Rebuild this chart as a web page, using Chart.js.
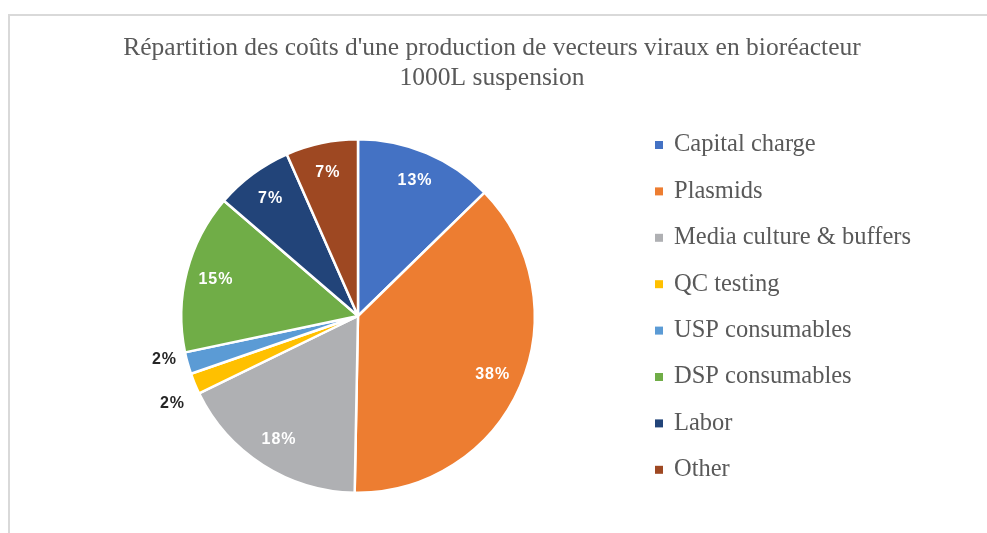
<!DOCTYPE html>
<html>
<head>
<meta charset="utf-8">
<title>Répartition des coûts</title>
<script src="https://cdn.jsdelivr.net/npm/chart.js@4.4.1/dist/chart.umd.min.js"></script>
<style>
  html, body { margin: 0; padding: 0; background: #fff; }
  #wrap { position: relative; width: 987px; height: 533px; }
</style>
</head>
<body>
<div id="wrap"><canvas id="costChart" width="987" height="533"></canvas></div>
<script>
const titleLines = [
  "Répartition des coûts d'une production de vecteurs viraux en bioréacteur",
  "1000L suspension",
];
const categories = [
  "Capital charge",
  "Plasmids",
  "Media culture & buffers",
  "QC testing",
  "USP consumables",
  "DSP consumables",
  "Labor",
  "Other",
];
// share of total cost, in percent
const costShares = [12.7, 37.6, 17.5, 1.9, 2.0, 14.6, 7.1, 6.6];
const sliceColors = [
  "#4472C4",
  "#ED7D31",
  "#AFB0B3",
  "#FFC000",
  "#5B9BD5",
  "#70AD47",
  "#224479",
  "#9E4822",
];

const textGrey = "#595959";
const serif = "'Liberation Serif', 'DejaVu Serif', serif";

// frame, title and legend drawn straight on the canvas
const decorPlugin = {
  id: "decor",
  beforeDraw(chart) {
    const c = chart.ctx;
    c.save();
    c.strokeStyle = "#d9d9d9";
    c.lineWidth = 2;
    c.beginPath();
    c.moveTo(9, 540);
    c.lineTo(9, 15);
    c.lineTo(990, 15);
    c.stroke();

    c.fillStyle = textGrey;
    c.font = "25.5px " + serif;
    c.textAlign = "center";
    c.textBaseline = "middle";
    titleLines.forEach((t, i) => c.fillText(t, 492, 48 + i * 30));
    c.restore();
  },
  afterDraw(chart) {
    const c = chart.ctx;
    const ds = chart.data.datasets[0];
    c.save();
    c.font = "24.5px " + serif;
    c.textAlign = "left";
    c.textBaseline = "middle";
    chart.data.labels.forEach((label, i) => {
      const y = 145 + i * 46.4;
      c.fillStyle = ds.backgroundColor[i];
      c.fillRect(655, y - 4, 8, 8);
      c.fillStyle = textGrey;
      c.fillText(label, 674, y);
    });
    c.restore();
  },
};

// percentage labels: inside the slice when it is big enough, outside otherwise
const sliceLabelPlugin = {
  id: "sliceLabels",
  afterDatasetsDraw(chart) {
    const c = chart.ctx;
    const meta = chart.getDatasetMeta(0);
    const data = chart.data.datasets[0].data;
    const total = data.reduce((a, b) => a + b, 0);
    const outside = [];
    c.save();
    c.font = "bold 16px 'Liberation Sans', Arial, sans-serif";
    c.letterSpacing = "1px";
    c.textAlign = "center";
    c.textBaseline = "middle";
    meta.data.forEach((arc, i) => {
      const p = arc.getProps(["x", "y", "startAngle", "endAngle", "outerRadius"], true);
      const mid = (p.startAngle + p.endAngle) / 2;
      const pct = data[i] / total * 100;
      const text = Math.round(pct) + "%";
      if (pct < 4) {
        const d = p.outerRadius + 24;
        outside.push({ text, x: p.x + Math.cos(mid) * d, y: p.y + Math.sin(mid) * d });
      } else {
        const d = p.outerRadius * 0.83;
        c.fillStyle = "#ffffff";
        c.fillText(text, p.x + Math.cos(mid) * d, p.y + Math.sin(mid) * d);
      }
    });
    // spread outside labels that sit too close together
    outside.sort((a, b) => a.y - b.y);
    for (let k = 1; k < outside.length; k++) {
      const gap = outside[k].y - outside[k - 1].y;
      if (gap < 44) {
        const push = (44 - gap) / 2;
        outside[k - 1].y -= push;
        outside[k].y += push;
      }
    }
    c.fillStyle = "#262626";
    outside.forEach((o) => c.fillText(o.text, o.x, o.y));
    c.restore();
  },
};

const ctx = document.getElementById("costChart").getContext("2d");
const costChart = new Chart(ctx, {
  type: "pie",
  data: {
    labels: categories,
    datasets: [
      {
        data: costShares,
        backgroundColor: sliceColors,
        borderColor: "#ffffff",
        borderWidth: 2.5,
      },
    ],
  },
  options: {
    responsive: false,
    animation: false,
    layout: {
      padding: { left: 180, top: 138, right: 451, bottom: 39 },
    },
    plugins: {
      legend: { display: false },
      title: { display: false },
      tooltip: { enabled: false },
    },
  },
  plugins: [decorPlugin, sliceLabelPlugin],
});
</script>
</body>
</html>
